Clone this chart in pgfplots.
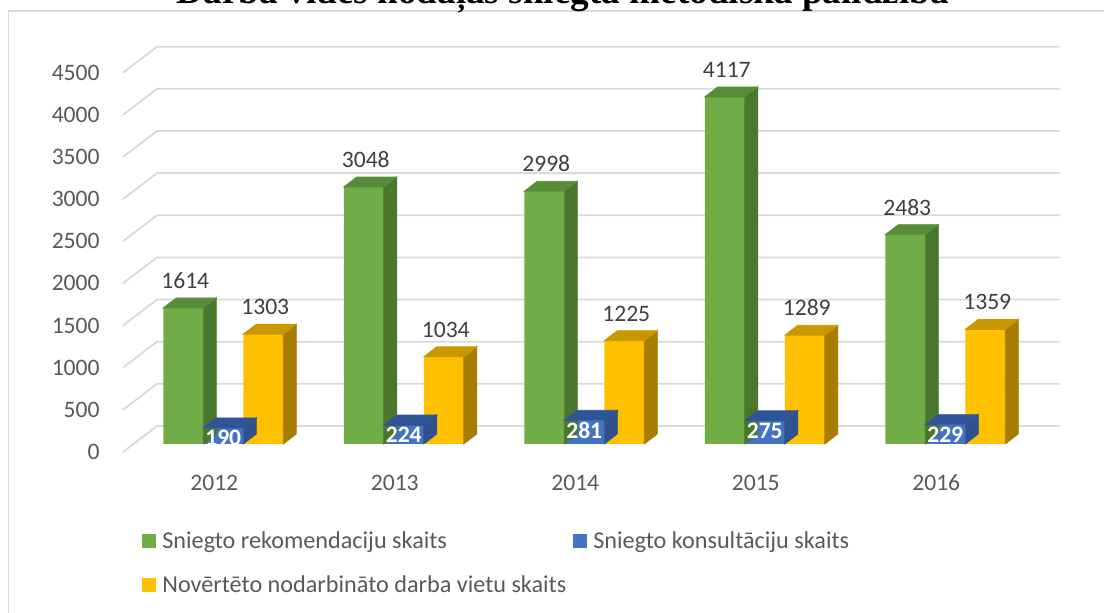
\documentclass[border=0pt]{standalone}
\usepackage{fontspec}
\setmainfont{Carlito}
\newfontfamily\titlefont{Liberation Serif}
\usepackage{pgfplots}
\usepackage{pgfplotstable}
\pgfplotsset{compat=1.18}

\definecolor{gFront}{HTML}{70AD47}
\definecolor{gSide}{HTML}{4B762E}
\definecolor{gTop}{HTML}{578C38}
\definecolor{bFront}{HTML}{4472C4}
\definecolor{bSide}{HTML}{2F528F}
\definecolor{bTop}{HTML}{2F5597}
\definecolor{yFront}{HTML}{FFC000}
\definecolor{ySide}{HTML}{A67D00}
\definecolor{yTop}{HTML}{C99700}
\definecolor{gridc}{HTML}{D9D9D9}
\definecolor{labc}{HTML}{595959}
\definecolor{valc}{HTML}{404040}

% one row per year: recommendations, consultations, assessed workplaces
\pgfplotstableread{
x green blue yellow
0 1614 190 1303
1 3048 224 1034
2 2998 281 1225
3 4117 275 1289
4 2483 229 1359
}\datatable

\tikzset{valfont/.style={font=\fontsize{11.8}{14}\selectfont}}

% side and top faces of a pseudo-3D bar, drawn at every data point
% #1 side colour, #2 top colour, #3 bar shift
\pgfplotsset{
  face3d/.style n args={3}{
    forget plot, scatter, only marks, mark=text, text mark={},
    visualization depends on={rawy \as \rawy},
    scatter/@pre marker code/.code={%
      \pgfmathsetlengthmacro\hh{\rawy*0.042144pt}%
      \fill[#1] (#3+10pt,0pt) -- (#3+16.5pt,5pt) -- (#3+16.5pt,5pt-\hh) -- (#3+10pt,-\hh) -- cycle;
      \fill[#2] (#3-10pt,0pt) -- (#3+10pt,0pt) -- (#3+16.5pt,5pt) -- (#3-3.5pt,5pt) -- cycle;
      \scope},
    scatter/@post marker code/.code={\endscope},
  },
}

\begin{document}
\begin{tikzpicture}
\path (0,0) rectangle (552pt,306.5pt);
\draw[overlay, gridc, line width=0.75pt] (4.25pt,-20pt) rectangle (600pt,301pt);
\node[overlay, anchor=base, inner sep=0pt, font=\titlefont\bfseries\fontsize{18.6}{22}\selectfont]
  at (281.5pt,304.8pt) {Darba vides nodaļas sniegtā metodiskā palīdzība};

\begin{axis}[
  at={(66.5pt,84.5pt)}, anchor=south west,
  scale only axis, width=451.25pt, height=189.65pt,
  xmin=-0.5, xmax=4.5, ymin=0, ymax=4500,
  xtick={0,...,4}, xticklabels={2012,2013,2014,2015,2016},
  ytick={0,500,...,4500},
  tick style={draw=none},
  axis line style={draw=none},
  clip=false,
  set layers,
  /pgf/number format/assume math mode=true,
  /pgf/number format/1000 sep={},
  ticklabel style={font=\fontsize{11.8}{14}\selectfont, text=labc, inner sep=0pt},
  yticklabel style={anchor=east, xshift=-16.5pt, yshift=-4pt},
  xticklabel style={anchor=center, xshift=-4.5pt, yshift=-19.5pt},
  legend columns=2,
  legend cell align=left,
  legend style={draw=none, fill=none, inner sep=0pt,
    at={(0.00997,-0.2346)}, anchor=north west,
    font=\fontsize{12.1}{14}\selectfont, text=labc,
    nodes={inner xsep=0pt, inner ysep=0pt, text height=7.6pt, text depth=2.2pt},
    row sep=12.2pt,
    /tikz/every odd column/.append style={column sep=3pt},
    /tikz/every even column/.append style={column sep=3.5pt}},
]
\begin{pgfonlayer}{axis background}
\pgfplotsinvokeforeach{0,500,...,4500}{
  \draw[gridc, line width=0.9pt] ([xshift=-5pt,yshift=-4pt]axis cs:-0.5,#1)
    -- ([xshift=12pt,yshift=9pt]axis cs:-0.5,#1)
    -- ([xshift=12pt,yshift=9pt]axis cs:4.5,#1);
}
\end{pgfonlayer}

\addplot[face3d={gSide}{gTop}{-20pt}] table[x=x,y=green] {\datatable};
\addplot[ybar, bar width=20pt, bar shift=-20pt, fill=gFront, draw=none,
  nodes near coords,
  every node near coord/.append style={anchor=south, inner sep=0pt, xshift=-19pt, yshift=9.5pt, valfont, text=valc},
  legend image code/.code={\fill[gFront] (0pt,-2.65pt) rectangle (7pt,4.35pt);}]
  table[x=x,y=green] {\datatable};
\addlegendentry{Sniegto rekomendaciju skaits}

\addplot[face3d={bSide}{bTop}{0pt}] table[x=x,y=blue] {\datatable};
\addplot[ybar, bar width=20pt, bar shift=0pt, fill=bFront, draw=none,
  nodes near coords,
  every node near coord/.append style={anchor=center, inner sep=0pt, yshift=-5pt,
    font=\bfseries\fontsize{11.8}{14}\selectfont, text=white},
  legend image code/.code={\fill[bFront] (0pt,-2.65pt) rectangle (7pt,4.35pt);}]
  table[x=x,y=blue] {\datatable};
\addlegendentry{Sniegto konsultāciju skaits}

\addplot[face3d={ySide}{yTop}{20pt}] table[x=x,y=yellow] {\datatable};
\addplot[ybar, bar width=20pt, bar shift=20pt, fill=yFront, draw=none,
  nodes near coords,
  every node near coord/.append style={anchor=south, inner sep=0pt, xshift=21pt, yshift=9.5pt, valfont, text=valc},
  legend image code/.code={\fill[yFront] (0pt,-2.65pt) rectangle (7pt,4.35pt);}]
  table[x=x,y=yellow] {\datatable};
\addlegendentry{Novērtēto nodarbināto darba vietu skaits}
\end{axis}
\end{tikzpicture}
\end{document}
